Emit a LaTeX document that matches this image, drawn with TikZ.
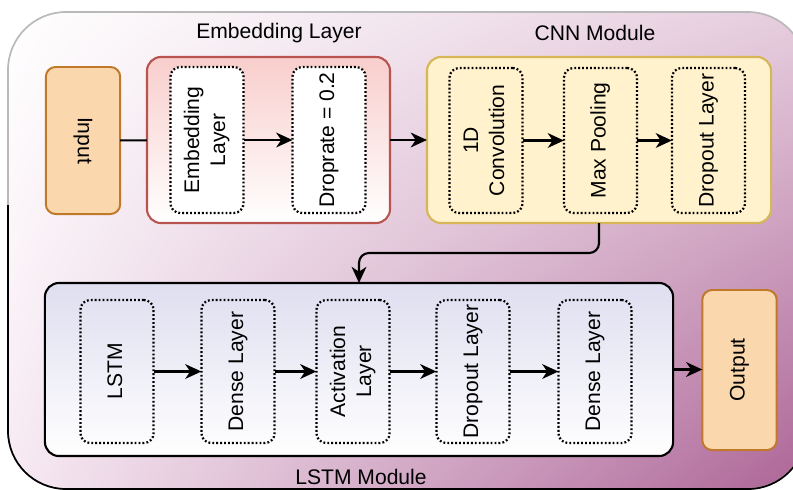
\documentclass[tikz,border=0pt]{standalone}
\usepackage{fontspec}
\setmainfont{Liberation Sans}
\usetikzlibrary{arrows.meta,shadings}

\definecolor{bgtr}{RGB}{230,205,222}
\definecolor{bgbl}{RGB}{247,234,243}
\definecolor{bgbr}{RGB}{172,100,150}
\definecolor{redfill}{HTML}{F8CECC}
\definecolor{redline}{HTML}{B85450}
\definecolor{yelfill}{HTML}{FFF2CC}
\definecolor{yelline}{HTML}{D6B656}
\definecolor{lavfill}{HTML}{DEDEF0}
\definecolor{orfill}{HTML}{FAD7AC}
\definecolor{orline}{HTML}{C0782A}

\newcommand{\vlab}[2][90]{\rotatebox{#1}{\begin{tabular}{@{}c@{}}#2\end{tabular}}}

\tikzset{
  every node/.style={inner sep=0pt, outer sep=0pt, font=\fontsize{15}{18.5}\selectfont},
  module/.style={draw, line width=1.5pt, rounded corners=10pt},
  layerbox/.style={draw, line width=1.6pt, dash pattern=on 1.3pt off 1.5pt,
    rounded corners=7pt, minimum width=1.83cm, minimum height=3.65cm},
  iobox/.style={draw=orline, fill=orfill, line width=1.4pt, rounded corners=7pt, minimum width=1.86cm},
  arr/.style={line width=1.5pt, -{Stealth[length=11.5pt, width=10.5pt, inset=3.5pt]}},
  plain/.style={line width=1.5pt}
}

\begin{document}
\begin{tikzpicture}[x=0.025cm, y=-0.025cm]
    \useasboundingbox (0,0) rectangle (793,489);
    % background frame
    \shade[upper left=white, upper right=bgtr, lower left=bgbl, lower right=bgbr, rounded corners=1.45cm]
        (8,12) rectangle (806,489);
    \draw[gray!55, line width=1.2pt, rounded corners=1.45cm] (8,12) rectangle (806,489);
    \begin{scope}
        \clip (0,205) rectangle (793,489);
        \draw[black, line width=1.2pt, rounded corners=1.45cm] (8,12) rectangle (806,489);
    \end{scope}

    % titles
    \node (embt) at (279,33) {Embedding Layer};
    \node (cnnt) at (595,33) {CNN Module};
    \node (lstmt) at (361,477) {LSTM Module};

    % input and embedding
    \node[iobox, minimum height=3.675cm] (inp) at (83,140.5) {\vlab[-90]{Input}};
    \node[module, draw=redline, top color=redfill, bottom color=white,
          minimum width=6.075cm, minimum height=4.15cm] (emb) at (268.5,140) {};
    \node[layerbox, fill=white] (embl) at (207,140) {\vlab{Embedding\\Layer}};
    \node[layerbox, fill=white] (drop) at (329,140) {\vlab{Droprate = 0.2}};

    % cnn module
    \node[module, draw=yelline, fill=yelfill,
          minimum width=8.6cm, minimum height=4.15cm] (cnn) at (599,140) {};
    \node[layerbox, minimum height=3.625cm] (conv) at (486,140.5) {\vlab{1D\\Convolution}};
    \node[layerbox, minimum height=3.625cm] (pool) at (600.5,140.5) {\vlab{Max Pooling}};
    \node[layerbox, minimum height=3.625cm] (cdrop) at (708.5,140.5) {\vlab{Dropout Layer}};

    % lstm module
    \node[module, draw=black, top color=lavfill, bottom color=white,
          minimum width=15.7cm, minimum height=4.325cm] (lstmm) at (359,369.5) {};
    \node[layerbox, minimum height=3.575cm] (lstm) at (117,371.5) {\vlab{LSTM}};
    \node[layerbox, minimum height=3.575cm] (dense1) at (238,371.5) {\vlab{Dense Layer}};
    \node[layerbox, minimum height=3.575cm] (act) at (353,371.5) {\vlab{Activation\\Layer}};
    \node[layerbox, minimum height=3.575cm] (ldrop) at (473,371.5) {\vlab{Dropout Layer}};
    \node[layerbox, minimum height=3.575cm] (dense2) at (595,371.5) {\vlab{Dense Layer}};
    \node[iobox, minimum height=4cm] (out) at (739.5,370) {\vlab{Output}};

    % connectors
    \draw[plain] (inp) -- (emb);
    \draw[arr] (embl) -- (drop);
    \draw[arr] (emb) -- (cnn);
    \draw[arr] (conv) -- (pool);
    \draw[arr] (pool) -- (cdrop);
    \draw[arr, rounded corners=7pt] (cnn.south) -- ++(0,30) -| (lstmm.north);
    \draw[arr] (lstm) -- (dense1);
    \draw[arr] (dense1) -- (act);
    \draw[arr] (act) -- (ldrop);
    \draw[arr] (ldrop) -- (dense2);
    \draw[arr] (lstmm.east) -- (lstmm.east -| out.west);
\end{tikzpicture}
\end{document}
